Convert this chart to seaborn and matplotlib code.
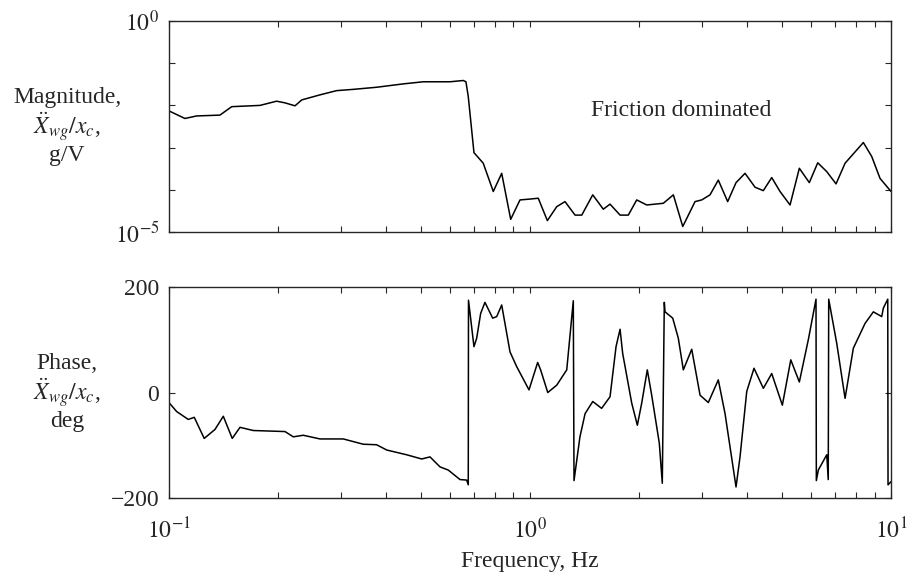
import numpy as np
import pandas as pd
import matplotlib
matplotlib.use('Agg')
import matplotlib.pyplot as plt
import matplotlib.ticker as mticker
import seaborn as sns

# magnitude curve: frequency (Hz) and log10 of magnitude (g/V)
mag_freq = [0.1, 0.1107, 0.1193, 0.1384, 0.1492, 0.1787, 0.1987, 0.2096, 0.2234, 0.2332,
            0.262, 0.2913, 0.3239, 0.376, 0.4457, 0.5063, 0.6004, 0.6533, 0.6646, 0.6745,
            0.6995, 0.7421, 0.7912, 0.8348, 0.8841, 0.9382, 1.0, 1.054, 1.117, 1.186,
            1.25, 1.333, 1.391, 1.492, 1.596, 1.666, 1.776, 1.872, 1.975, 2.105,
            2.34, 2.495, 2.649, 2.865, 2.99, 3.152, 3.323, 3.528, 3.721, 3.941,
            4.201, 4.429, 4.672, 4.926, 5.251, 5.572, 5.938, 6.266, 6.637, 7.042,
            7.459, 8.381, 8.841, 9.322, 10.0]
mag_log = [-2.13, -2.31, -2.25, -2.23, -2.03, -2.0, -1.90, -1.94, -2.01, -1.87,
           -1.75, -1.65, -1.62, -1.57, -1.49, -1.44, -1.44, -1.41, -1.44, -1.79,
           -3.12, -3.37, -4.04, -3.61, -4.70, -4.24, -4.22, -4.20, -4.73, -4.40,
           -4.28, -4.60, -4.60, -4.12, -4.46, -4.34, -4.60, -4.60, -4.24, -4.36,
           -4.32, -4.12, -4.87, -4.28, -4.24, -4.12, -3.77, -4.28, -3.83, -3.61,
           -3.94, -4.02, -3.71, -4.04, -4.36, -3.49, -3.83, -3.36, -3.57, -3.86,
           -3.37, -2.88, -3.21, -3.73, -4.04]

# phase curve (deg), wraps at +/-180
ph_freq = [0.1, 0.105, 0.1131, 0.1175, 0.1252, 0.1341, 0.1414, 0.1497, 0.1573, 0.1712,
           0.2096, 0.221, 0.2355, 0.262, 0.304, 0.3452, 0.376, 0.401, 0.4553, 0.5012,
           0.5284, 0.5633, 0.5938, 0.6399, 0.6677, 0.6745, 0.6755, 0.6995, 0.7117, 0.73,
           0.7502, 0.7882, 0.8087, 0.8348, 0.8803, 0.9188, 0.9936, 1.05, 1.07, 1.12,
           1.186, 1.264, 1.318, 1.324, 1.375, 1.421, 1.492, 1.579, 1.666, 1.731,
           1.776, 1.806, 1.913, 1.983, 2.039, 2.113, 2.173, 2.281, 2.325, 2.355,
           2.366, 2.485, 2.575, 2.659, 2.805, 2.958, 3.118, 3.255, 3.323, 3.469,
           3.721, 3.817, 3.984, 4.173, 4.429, 4.672, 5.0, 5.276, 5.572, 5.9,
           6.197, 6.21, 6.289, 6.637, 6.70, 6.72, 7.074, 7.459, 7.863, 8.472,
           8.933, 9.423, 9.521, 9.793, 9.81, 10.0]
ph_deg = [-19, -36, -51, -47, -87, -70, -45, -87, -66, -72,
          -74, -84, -81, -88, -88, -98, -99, -109, -118, -126,
          -122, -141, -147, -165, -166, -175, 175, 87, 103, 150,
          171, 141, 144, 166, 77, 49, 5, 57, 43, 0,
          14, 43, 174, -167, -84, -40, -17, -30, -8, 87,
          120, 74, -20, -62, -20, 43, -5, -96, -172, 171,
          153, 141, 103, 43, 82, -5, -19, 10, 24, -40,
          -179, -122, 2, 46, 8, 36, -24, 62, 20, 100,
          177, -167, -147, -118, -165, 177, 93, -11, 84, 131,
          153, 144, 160, 177, -175, -169]

mag_df = pd.DataFrame({'freq': mag_freq, 'mag': 10.0 ** np.array(mag_log)})
ph_df = pd.DataFrame({'freq': ph_freq, 'phase': ph_deg})

sns.set_style('ticks')
plt.rcParams['font.family'] = ['Liberation Serif', 'DejaVu Serif']
plt.rcParams['mathtext.fontset'] = 'stix'
plt.rcParams['font.size'] = 17

fig = plt.figure(figsize=(9.07, 5.82), dpi=100)
ax1 = fig.add_axes([0.1863, 0.6014, 0.7961, 0.3625])
ax2 = fig.add_axes([0.1863, 0.1443, 0.7961, 0.3625])

sns.lineplot(data=mag_df, x='freq', y='mag', ax=ax1, color='black', lw=1.1, estimator=None)
sns.lineplot(data=ph_df, x='freq', y='phase', ax=ax2, color='black', lw=1.1, estimator=None)

for ax in (ax1, ax2):
    ax.set_xscale('log')
    ax.set_xlim(0.1, 10)
    ax.xaxis.set_major_locator(mticker.FixedLocator([0.1, 1, 10]))
    ax.xaxis.set_minor_locator(mticker.LogLocator(base=10, subs=np.arange(2, 10)))
    ax.xaxis.set_minor_formatter(mticker.NullFormatter())
    ax.tick_params(which='both', direction='in', top=True, right=True, length=4, width=0.8,
                   labelsize=17)
    ax.tick_params(axis='y', pad=7)
    ax.tick_params(axis='x', pad=14)
    for s in ax.spines.values():
        s.set_linewidth(1.0)
    ax.set_xlabel('')

ax1.set_yscale('log')
ax1.set_ylim(1e-5, 1)
ax1.yaxis.set_major_locator(mticker.FixedLocator([1e-5, 1e-4, 1e-3, 1e-2, 1e-1, 1]))
ax1.yaxis.set_minor_locator(mticker.NullLocator())
ax1.yaxis.set_major_formatter(mticker.FixedFormatter(['$10^{-5}$', '', '', '', '', '$10^{0}$']))
ax1.xaxis.set_major_formatter(mticker.NullFormatter())
ax1.set_ylabel('Magnitude,\n$\\ddot{X}_{wg}/x_c$,\ng/V', rotation=0, ha='center', va='center',
               fontsize=17, linespacing=1.1)
ax1.yaxis.set_label_coords(-0.141, 0.5)
ax1.text(0.71, 0.578, 'Friction dominated', transform=ax1.transAxes, ha='center', va='center',
         fontsize=17)

ax2.set_ylim(-200, 200)
ax2.yaxis.set_major_locator(mticker.FixedLocator([-200, 0, 200]))
ax2.yaxis.set_major_formatter(mticker.FixedFormatter(['\u2212200', '0', '200']))
ax2.xaxis.set_major_formatter(mticker.FixedFormatter(['$10^{-1}$', '$10^{0}$', '$10^{1}$']))
ax2.set_ylabel('Phase,\n$\\ddot{X}_{wg}/x_c$,\ndeg', rotation=0, ha='center', va='center',
               fontsize=17, linespacing=1.1)
ax2.yaxis.set_label_coords(-0.141, 0.5)
ax2.set_xlabel('Frequency, Hz', fontsize=17, labelpad=6)

plt.savefig('out.png', dpi=100)
